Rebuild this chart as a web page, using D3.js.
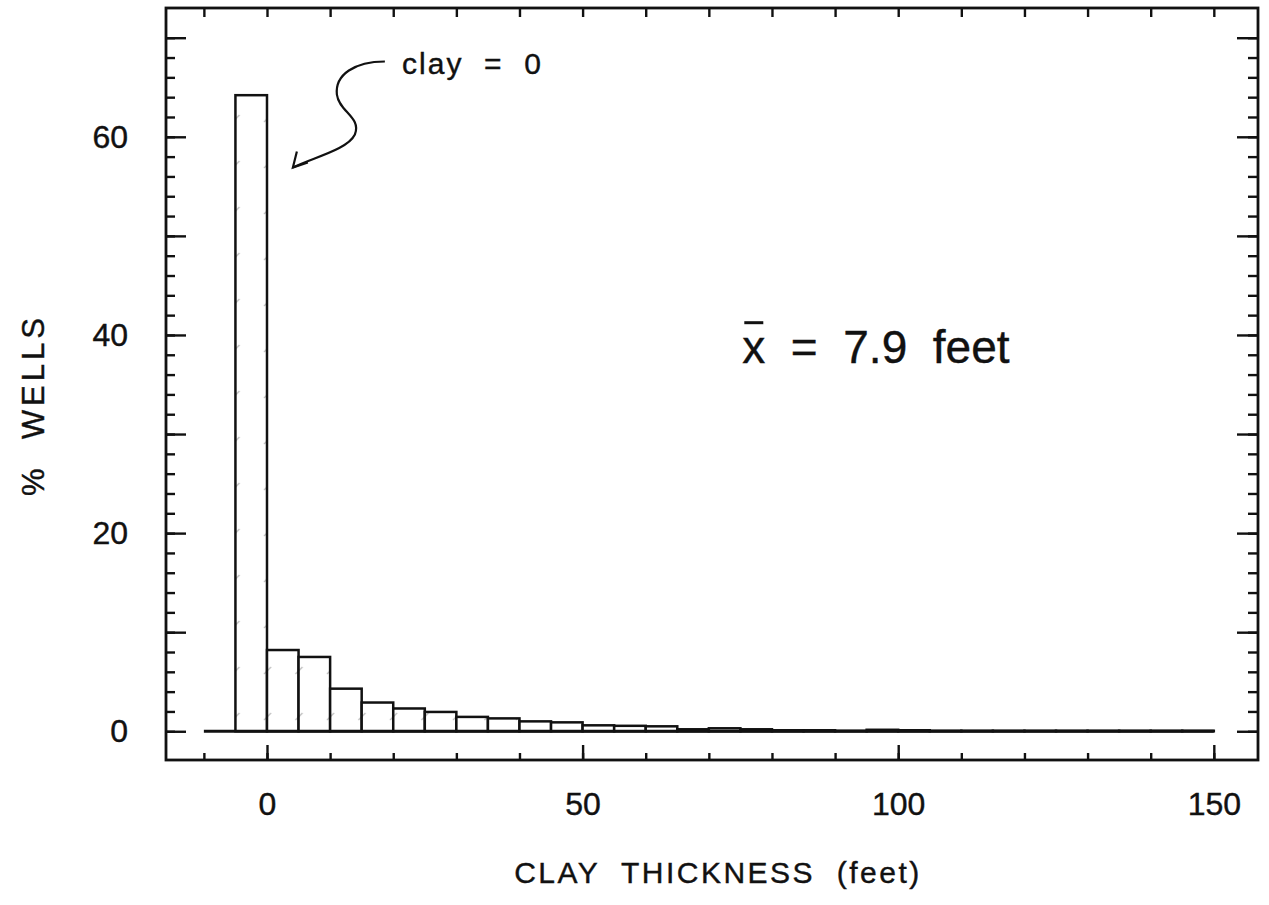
<!DOCTYPE html>
<html>
<head>
<meta charset="utf-8">
<script src="https://cdn.jsdelivr.net/npm/d3@7"></script>
<style>
  body { margin: 0; background: #fff; }
  text { font-family: "Liberation Sans", Arial, sans-serif; fill: #111; stroke: #111; stroke-width: 0.4px; }
</style>
</head>
<body>
<div id="chart"></div>
<script>
// histogram bins (feet), first bin is the clay = 0 class drawn from -5 to 0
const binStart = [-5, 0, 5, 10, 15, 20, 25, 30, 35, 40, 45, 50, 55, 60, 65, 70, 75,
  80, 85, 90, 95, 100, 105, 110, 115, 120, 125, 130, 135, 140, 145];
const pctWells = [64.2, 8.2, 7.5, 4.3, 2.9, 2.3, 1.95, 1.45, 1.3, 1.0, 0.9, 0.6, 0.55, 0.5, 0.2, 0.3, 0.2,
  0.1, 0.1, 0.05, 0.15, 0.1, 0.05, 0.05, 0.05, 0.05, 0.05, 0.05, 0.05, 0.05, 0.05];
const binWidth = 5;

const xLabels = [0, 50, 100, 150];
const yLabels = [0, 20, 40, 60];
const meanText = '7.9';

const width = 1269;
const height = 905;

const svg = d3.select('#chart')
  .append('svg')
  .attr('width', width)
  .attr('height', height);

// scales: plot frame 166..1258 x 8..760
const x = d3.scaleLinear().domain([-16, 157]).range([166, 1258]);
const y = d3.scaleLinear().domain([-2.9, 73]).range([760, 8]);

// faint diagonal marks inside bars (scanned hatch)
const defs = svg.append('defs');
const pat = defs.append('pattern')
  .attr('id', 'hatch')
  .attr('patternUnits', 'userSpaceOnUse')
  .attr('width', 31.5)
  .attr('height', 46);
pat.append('rect').attr('width', 31.5).attr('height', 46).attr('fill', '#fff');
pat.append('line')
  .attr('x1', 12).attr('y1', 30).attr('x2', 19).attr('y2', 23)
  .attr('stroke', '#bbb').attr('stroke-width', 1.2);

const bins = binStart.map((b, i) => ({ x0: b, x1: b + binWidth, v: pctWells[i] }));

// bars
svg.append('g')
  .selectAll('rect')
  .data(bins)
  .enter()
  .append('rect')
  .attr('x', d => x(d.x0))
  .attr('width', d => x(d.x1) - x(d.x0))
  .attr('y', d => y(d.v))
  .attr('height', d => y(0) - y(d.v))
  .attr('fill', 'url(#hatch)')
  .attr('stroke', '#111')
  .attr('stroke-width', 2.5);

// baseline
svg.append('line')
  .attr('x1', x(-10)).attr('x2', x(150))
  .attr('y1', y(0)).attr('y2', y(0))
  .attr('stroke', '#111')
  .attr('stroke-width', 2.8);

// ticks with d3 axes, pointing inward
function styleAxis(g) {
  g.select('.domain').remove();
  g.selectAll('.tick line').attr('stroke', '#111').attr('stroke-width', 2.4);
  g.selectAll('.tick text')
    .style('font-size', '32px')
    .style('font-family', '"Liberation Sans", Arial, sans-serif')
    .attr('fill', '#111');
}

const xMinor = d3.range(-10, 151, 10);
const yMinor = d3.range(0, 71, 2);
const yMajor = d3.range(0, 71, 10);

svg.append('g')
  .attr('transform', `translate(0,${y.range()[0]})`)
  .call(d3.axisBottom(x).tickValues(xMinor).tickSize(-7).tickFormat(''))
  .call(styleAxis);
svg.append('g')
  .attr('transform', `translate(0,${y.range()[0]})`)
  .call(d3.axisBottom(x).tickValues(xLabels).tickSize(-15).tickPadding(32).tickFormat(d3.format('d')))
  .call(styleAxis);

svg.append('g')
  .attr('transform', `translate(0,${y.range()[1]})`)
  .call(d3.axisTop(x).tickValues(xMinor).tickSize(-9).tickFormat(''))
  .call(styleAxis);

svg.append('g')
  .attr('transform', `translate(${x.range()[0]},0)`)
  .call(d3.axisLeft(y).tickValues(yMinor).tickSize(-9).tickFormat(''))
  .call(styleAxis);
svg.append('g')
  .attr('transform', `translate(${x.range()[0]},0)`)
  .call(d3.axisLeft(y).tickValues(yMajor).tickSize(-20).tickFormat(''))
  .call(styleAxis);
svg.append('g')
  .attr('transform', `translate(${x.range()[0]},0)`)
  .call(d3.axisLeft(y).tickValues(yLabels).tickSize(0).tickPadding(38).tickFormat(d3.format('d')))
  .call(styleAxis);

svg.append('g')
  .attr('transform', `translate(${x.range()[1]},0)`)
  .call(d3.axisRight(y).tickValues(yMinor).tickSize(-10).tickFormat(''))
  .call(styleAxis);
svg.append('g')
  .attr('transform', `translate(${x.range()[1]},0)`)
  .call(d3.axisRight(y).tickValues(yMajor).tickSize(-21).tickFormat(''))
  .call(styleAxis);

// frame
svg.append('rect')
  .attr('x', x.range()[0])
  .attr('y', y.range()[1])
  .attr('width', x.range()[1] - x.range()[0])
  .attr('height', y.range()[0] - y.range()[1])
  .attr('fill', 'none')
  .attr('stroke', '#111')
  .attr('stroke-width', 2.8);

// axis titles
svg.append('text')
  .attr('x', 718)
  .attr('y', 883)
  .attr('text-anchor', 'middle')
  .style('font-size', '30px')
  .style('letter-spacing', '2.5px')
  .style('white-space', 'pre')
  .text('CLAY  THICKNESS  (feet)');

svg.append('text')
  .attr('transform', 'translate(44,405) rotate(-90)')
  .attr('text-anchor', 'middle')
  .style('font-size', '31px')
  .style('letter-spacing', '4px')
  .style('white-space', 'pre')
  .text('%  WELLS');

// annotation "clay = 0" with curved arrow
const tip = [x(4.1), y(56.9)];
svg.append('text')
  .attr('x', x(21.4))
  .attr('y', y(66.3))
  .style('font-size', '30px')
  .style('letter-spacing', '2px')
  .style('white-space', 'pre')
  .text('clay  =  0');

const arrow = d3.path();
arrow.moveTo(tip[0] + 92, tip[1] - 106);
arrow.bezierCurveTo(tip[0] + 62, tip[1] - 106, tip[0] + 42, tip[1] - 93, tip[0] + 44, tip[1] - 73);
arrow.bezierCurveTo(tip[0] + 46, tip[1] - 56, tip[0] + 69, tip[1] - 50, tip[0] + 62, tip[1] - 33);
arrow.bezierCurveTo(tip[0] + 55, tip[1] - 18, tip[0] + 20, tip[1] - 10, tip[0], tip[1]);
svg.append('path')
  .attr('d', arrow.toString())
  .attr('fill', 'none')
  .attr('stroke', '#111')
  .attr('stroke-width', 2.2);
svg.append('path')
  .attr('d', `M${tip[0] + 4},${tip[1] - 16} L${tip[0]},${tip[1]} L${tip[0] + 15},${tip[1] - 5}`)
  .attr('fill', 'none')
  .attr('stroke', '#111')
  .attr('stroke-width', 2.2);

// mean annotation
const meanG = svg.append('text')
  .attr('x', x(75.3))
  .attr('y', y(37.2))
  .style('font-size', '46px')
  .style('white-space', 'pre');
meanG.append('tspan').attr('id', 'xbar').text('x');
meanG.append('tspan').text('  =  ' + meanText + '  feet');
const xb = svg.select('#xbar').node().getBBox();
svg.append('line')
  .attr('x1', xb.x + 2).attr('x2', xb.x + xb.width - 2)
  .attr('y1', y(37.2) - 40).attr('y2', y(37.2) - 40)
  .attr('stroke', '#111')
  .attr('stroke-width', 3);
</script>
</body>
</html>
